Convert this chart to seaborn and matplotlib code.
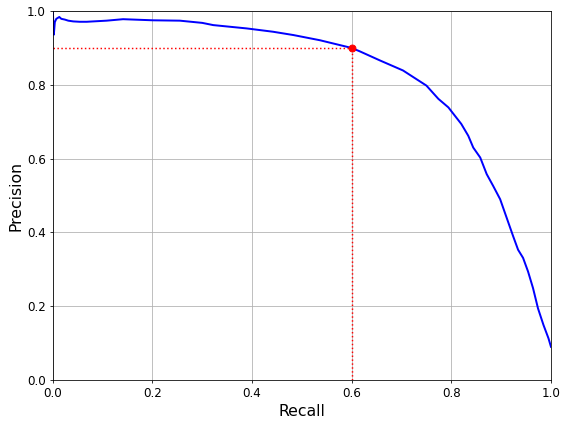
import matplotlib
matplotlib.use("Agg")
import matplotlib.pyplot as plt
import seaborn as sns
import pandas as pd

# precision/recall curve
recall = [0.0, 0.002, 0.004, 0.007, 0.013, 0.017, 0.024, 0.031, 0.041, 0.054,
          0.068, 0.081, 0.108, 0.141, 0.201, 0.255, 0.30, 0.322, 0.389, 0.442,
          0.483, 0.536, 0.6, 0.616, 0.657, 0.703, 0.75, 0.774, 0.794, 0.82,
          0.834, 0.844, 0.858, 0.871, 0.884, 0.898, 0.911, 0.924, 0.934, 0.944,
          0.954, 0.964, 0.974, 0.985, 0.995, 1.0]
precision = [1.0, 0.936, 0.97, 0.979, 0.984, 0.979, 0.977, 0.974, 0.972, 0.971,
             0.971, 0.972, 0.974, 0.978, 0.975, 0.974, 0.968, 0.962, 0.953, 0.944,
             0.935, 0.921, 0.9, 0.891, 0.866, 0.839, 0.798, 0.762, 0.739, 0.694,
             0.662, 0.630, 0.603, 0.558, 0.526, 0.49, 0.44, 0.39, 0.353, 0.331,
             0.294, 0.249, 0.194, 0.149, 0.113, 0.09]

target_recall = 0.6
target_precision = 0.9

df = pd.DataFrame({"recall": recall, "precision": precision})

fig, ax = plt.subplots(figsize=(8, 6), dpi=71)
sns.lineplot(data=df, x="recall", y="precision", color="b", linewidth=2,
             sort=False, estimator=None, ax=ax)

# dotted guides to the 90% precision point
ax.plot([target_recall, target_recall], [0, target_precision], "r:")
ax.plot([0, target_recall], [target_precision, target_precision], "r:")
ax.plot([target_recall], [target_precision], "ro", markersize=7)

ax.set_xlabel("Recall", fontsize=16)
ax.set_ylabel("Precision", fontsize=16)
ax.tick_params(labelsize=12)
ax.set_xlim(0, 1)
ax.set_ylim(0, 1)
ax.grid(True)

fig.subplots_adjust(left=0.093, right=0.970, bottom=0.108, top=0.974)
fig.savefig("out.png", dpi=71)
